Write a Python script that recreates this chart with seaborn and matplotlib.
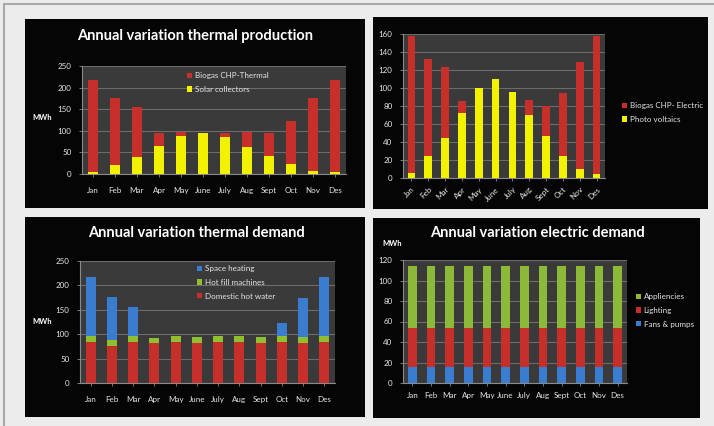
import matplotlib
matplotlib.use("Agg")
import matplotlib.pyplot as plt
import seaborn as sns
import pandas as pd
from matplotlib.patches import Rectangle, Patch

sns.set_theme(style="dark")
plt.rcParams["font.family"] = ["Lato", "DejaVu Sans"]

# ---- data -------------------------------------------------------------
months = ["Jan", "Feb", "Mar", "Apr", "May", "June", "July", "Aug", "Sept", "Oct", "Nov", "Des"]

# thermal production (MWh)
solar_collectors = [5, 20, 40, 65, 88, 95, 85, 62, 42, 22, 8, 4]
biogas_thermal = [213, 156, 116, 30, 9, 0, 11, 35, 53, 100, 167, 214]

# electric production (MWh)
photo_voltaics = [6, 24, 45, 72, 100, 110, 96, 70, 47, 25, 10, 4]
biogas_electric = [152, 108, 78, 14, 0, 0, 0, 17, 33, 70, 119, 154]

# thermal demand (MWh)
domestic_hot_water = [85, 76, 85, 82, 85, 82, 85, 85, 82, 85, 82, 85]
hot_fill_machines = [12, 12, 12, 11, 12, 13, 12, 12, 13, 12, 13, 12]
space_heating = [121, 88, 58, 0, 0, 0, 0, 0, 0, 26, 80, 121]

# electric demand (MWh)
fans_pumps = [16] * 12
lighting = [38] * 12
appliencies = [60] * 12

# ---- style ------------------------------------------------------------
W, H = 714, 426
RED = "#c62f2a"
YELLOW = "#f2f200"
BLUE = "#3a7ccf"
GREEN_FILL = "#8fbf2e"
GREEN_APP = "#8cba38"
WALL = "#3a3a3a"
GRID = "#6c6c6c"
TXT = "#e6e6e6"

fig = plt.figure(figsize=(W / 100, H / 100), dpi=100)
fig.patch.set_facecolor("#ececec")


def fx(x):
    return x / W


def fy(y):
    return 1 - y / H


# frame lines along the top and left edge
fig.add_artist(plt.Line2D([fx(4), fx(714)], [fy(4), fy(4)], color="#a8a8a8", lw=1.5))
fig.add_artist(plt.Line2D([fx(4), fx(4)], [fy(4), fy(426)], color="#a8a8a8", lw=1.5))

# black chart panels
for (l, t, r, b) in [(25, 19, 365, 208), (373, 17, 708, 209), (25, 217, 365, 417), (373, 218, 700, 418)]:
    fig.add_artist(Rectangle((fx(l), fy(b)), (r - l) / W, (b - t) / H,
                             transform=fig.transFigure, facecolor="#050505", edgecolor="none", zorder=0))


def make_axes(l, t, r, b):
    ax = fig.add_axes([fx(l), fy(b), (r - l) / W, (b - t) / H])
    ax.set_facecolor(WALL)
    return ax


def stacked(ax, layers, ymax, step, width, xpad):
    """layers: list of (label, values, colour) from bottom to top."""
    cum = []
    run = [0] * len(months)
    for label, vals, col in layers:
        run = [a + v for a, v in zip(run, vals)]
        cum.append((label, list(run), col))
    for label, tops, col in reversed(cum):
        df = pd.DataFrame({"month": months, "value": tops})
        sns.barplot(data=df, x="month", y="value", order=months, color=col, saturation=1,
                    width=width, ax=ax, label=label, edgecolor="none", zorder=3)
    ax.set_ylim(0, ymax)
    ax.set_xlim(-0.5, len(months) - 0.5)
    ax.set_yticks(range(0, ymax + 1, step))
    ax.yaxis.grid(True, color=GRID, lw=0.8)
    ax.xaxis.grid(False)
    ax.set_axisbelow(True)
    ax.set_xlabel("")
    ax.set_ylabel("")
    for s in ["top", "right"]:
        ax.spines[s].set_visible(False)
    for s in ["left", "bottom"]:
        ax.spines[s].set_visible(True)
        ax.spines[s].set_color("#8a8a8a")
        ax.spines[s].set_linewidth(0.8)
    ax.tick_params(axis="both", colors="#8a8a8a", labelcolor=TXT, labelsize=5.8,
                   length=2.5, width=0.6, direction="out", left=True, bottom=True)
    ax.tick_params(axis="y", pad=5)
    ax.tick_params(axis="x", pad=xpad)
    if ax.get_legend() is not None:
        ax.get_legend().remove()
    return cum


def legend(ax, cum, x, y):
    handles = [Patch(facecolor=c, edgecolor="none") for _, _, c in reversed(cum)]
    labels = [lab for lab, _, _ in reversed(cum)]
    ax.legend(handles, labels, loc="upper left", bbox_to_anchor=(fx(x), fy(y)),
              bbox_transform=fig.transFigure, frameon=False, fontsize=5.8, labelcolor=TXT,
              handlelength=0.6, handleheight=0.6, handletextpad=0.35, labelspacing=0.85,
              borderpad=0, borderaxespad=0)


title_kw = dict(color="white", fontsize=10.5, fontweight="bold", ha="center", va="center")
unit_kw = dict(color="white", fontsize=5.5, fontweight="bold", ha="center", va="center")

# ---- thermal production ------------------------------------------------
ax1 = make_axes(82, 66, 346, 174)
c1 = stacked(ax1, [("Solar collectors", solar_collectors, YELLOW),
                   ("Biogas CHP-Thermal", biogas_thermal, RED)], 250, 50, 0.46, 7)
legend(ax1, c1, 187, 72)
fig.text(fx(195), fy(36), "Annual variation thermal production", **title_kw)
fig.text(fx(42), fy(117), "MWh", **unit_kw)

# ---- electric production -----------------------------------------------
ax2 = make_axes(403, 34, 605, 178)
c2 = stacked(ax2, [("Photo voltaics", photo_voltaics, YELLOW),
                   ("Biogas CHP- Electric", biogas_electric, RED)], 160, 20, 0.45, 3)
for lab in ax2.get_xticklabels():
    lab.set_rotation(45)
    lab.set_ha("right")
    lab.set_rotation_mode("anchor")
legend(ax2, c2, 622, 102)

# ---- thermal demand ----------------------------------------------------
ax3 = make_axes(80, 261, 335, 383)
c3 = stacked(ax3, [("Domestic hot water", domestic_hot_water, RED),
                   ("Hot fill machines", hot_fill_machines, GREEN_FILL),
                   ("Space heating", space_heating, BLUE)], 250, 50, 0.46, 7)
legend(ax3, c3, 197, 265)
fig.text(fx(196), fy(233), "Annual variation thermal demand", **title_kw)
fig.text(fx(42), fy(322), "MWh", **unit_kw)

# ---- electric demand ---------------------------------------------------
ax4 = make_axes(403, 260, 627, 383)
c4 = stacked(ax4, [("Fans & pumps", fans_pumps, BLUE),
                   ("Lighting", lighting, RED),
                   ("Appliencies", appliencies, GREEN_APP)], 120, 20, 0.46, 4)
legend(ax4, c4, 636, 293)
fig.text(fx(537), fy(233), "Annual variation electric demand", **title_kw)
fig.text(fx(392), fy(243), "MWh", **unit_kw)

fig.savefig("out.png", dpi=100, facecolor=fig.get_facecolor())
